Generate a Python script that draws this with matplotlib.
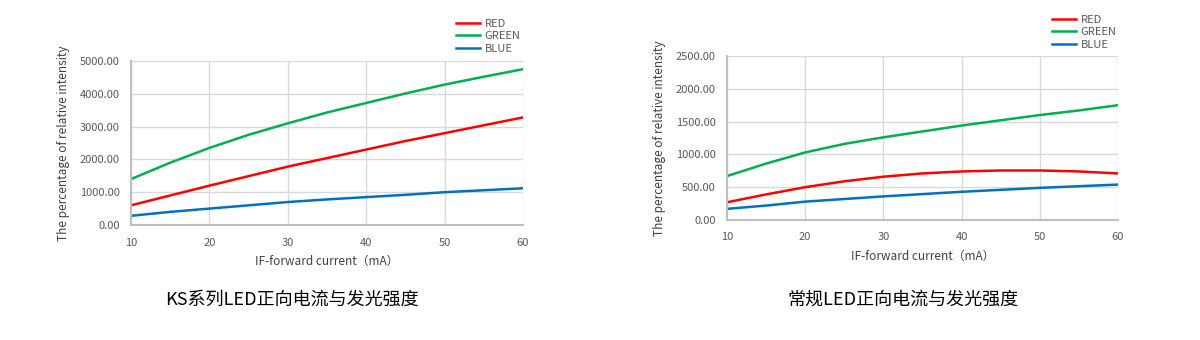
import numpy as np
import matplotlib
matplotlib.use("Agg")
import matplotlib.pyplot as plt

plt.rcParams['font.family'] = ['Noto Sans CJK SC', 'DejaVu Sans']

# forward current (mA)
current = [10, 15, 20, 25, 30, 35, 40, 45, 50, 55, 60]

# KS series
ks_red = [600, 900, 1200, 1490, 1780, 2040, 2300, 2560, 2800, 3040, 3280]
ks_green = [1400, 1900, 2350, 2750, 3100, 3430, 3720, 4010, 4280, 4520, 4750]
ks_blue = [280, 400, 500, 600, 700, 780, 850, 920, 1000, 1060, 1120]

# regular LED
std_red = [270, 390, 500, 590, 660, 710, 740, 755, 755, 740, 710]
std_green = [670, 860, 1030, 1160, 1260, 1350, 1440, 1520, 1600, 1670, 1750]
std_blue = [170, 220, 280, 320, 360, 395, 430, 460, 490, 515, 540]

series_names = ['RED', 'GREEN', 'BLUE']
colors = ['#FF0000', '#00B050', '#0070C0']
titles = ['KS系列LED正向电流与发光强度', '常规LED正向电流与发光强度']

fig = plt.figure(figsize=(12, 3.4), dpi=100)
ax1 = fig.add_axes([131/1200, 1-225/340, 392/1200, 164/340])
ax2 = fig.add_axes([727/1200, 1-220/340, 391/1200, 164/340])


def draw(ax, data, ymax, ystep, legend_top, legend_x, title, title_x):
    for vals, name, c in zip(data, series_names, colors):
        ax.plot(current, vals, color=c, lw=1.8, label=name)
    ax.set_xlim(10, 60)
    ax.set_ylim(0, ymax)
    ax.set_xticks(range(10, 61, 10))
    ax.set_yticks(np.arange(0, ymax + 1, ystep))
    ax.set_yticklabels(['%.2f' % v for v in np.arange(0, ymax + 1, ystep)])
    ax.grid(True, color='#d9d9d9', lw=1.0)
    ax.set_axisbelow(True)
    for s in ['top', 'right']:
        ax.spines[s].set_visible(False)
    for s in ['left', 'bottom']:
        ax.spines[s].set_color('#bfbfbf')
        ax.spines[s].set_linewidth(1.5)
    ax.tick_params(axis='x', pad=9)
    ax.tick_params(axis='y', pad=8)
    ax.tick_params(length=0, labelsize=8, colors='#595959')
    ax.set_xlabel('IF-forward current（mA）', fontsize=8.5, color='#404040', labelpad=5)
    ax.set_ylabel('The percentage of relative intensity', fontsize=8.5, color='#404040', labelpad=7)
    leg = ax.legend(loc='upper left', bbox_to_anchor=(legend_x, legend_top),
                    bbox_transform=fig.transFigure, frameon=False, fontsize=8,
                    handlelength=2.2, labelspacing=0.25, borderpad=0, handletextpad=0.4)
    for t in leg.get_texts():
        t.set_color('#595959')
    fig.text(title_x, 1 - 300/340, title, ha='center', va='center', fontsize=13)


draw(ax1, [ks_red, ks_green, ks_blue], 5000, 1000, 1 - 13/340, 450/1200, titles[0], 292/1200)
draw(ax2, [std_red, std_green, std_blue], 2500, 500, 1 - 9/340, 1046/1200, titles[1], 903/1200)

fig.savefig('out.png', dpi=100)
